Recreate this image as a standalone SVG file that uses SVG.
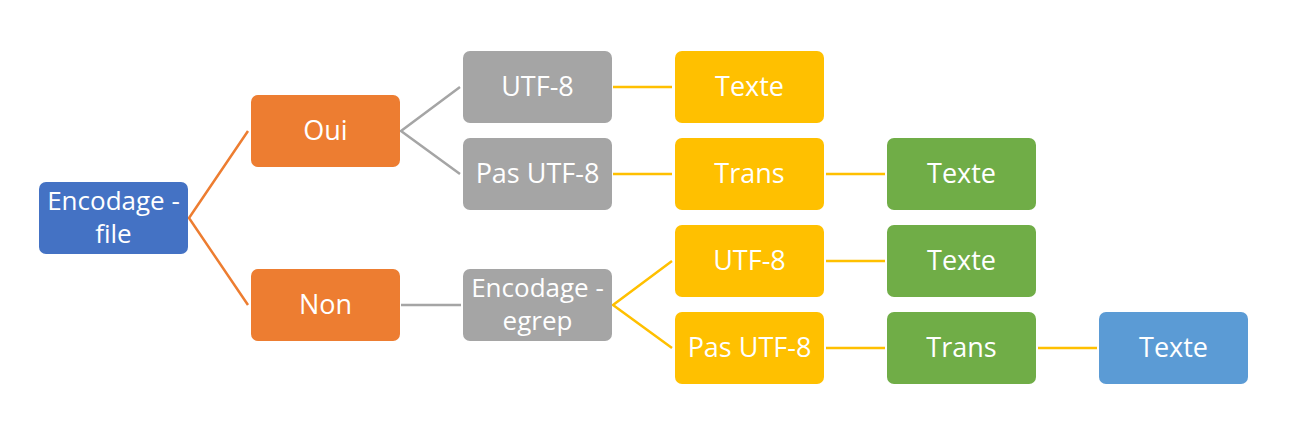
<svg xmlns="http://www.w3.org/2000/svg" width="1297" height="435" viewBox="0 0 1297 435">
<style>
rect{rx:7px;ry:7px}
.t{font-family:"Open Sans","Liberation Sans",sans-serif;font-size:27px;fill:#fff;text-anchor:middle}
.t2{font-size:26px}
.blue{fill:#4472C4}.org{fill:#ED7D31}.gray{fill:#A5A5A5}.yel{fill:#FFC000}.grn{fill:#70AD47}.lb{fill:#5B9BD5}
#connectors line,#connectors polyline{fill:none;stroke-width:2.5}
.so{stroke:#ED7D31}.sg{stroke:#A5A5A5}.sy{stroke:#FFC000}
</style>
<rect width="1297" height="435" fill="#fff" rx="0" ry="0" style="rx:0;ry:0"/>
<g id="connectors">
<polyline class="so" points="248,131 189,218 248,305"/>
<polyline class="sg" points="460,87 401,131 460,174"/>
<line class="sg" x1="401" y1="305" x2="461" y2="305"/>
<line class="sy" x1="613" y1="87" x2="672" y2="87"/>
<line class="sy" x1="613" y1="174" x2="672" y2="174"/>
<line class="sy" x1="826" y1="174" x2="885" y2="174"/>
<polyline class="sy" points="672,261 613,305 672,348"/>
<line class="sy" x1="826" y1="261" x2="885" y2="261"/>
<line class="sy" x1="826" y1="348" x2="885" y2="348"/>
<line class="sy" x1="1038" y1="348" x2="1097" y2="348"/>
</g>
<g id="n-encodage-file"><rect class="blue" x="39" y="182" width="149" height="72"/><text class="t t2" x="113.5" y="210">Encodage -</text><text class="t t2" x="113.5" y="243">file</text></g>
<g id="n-oui"><rect class="org" x="251" y="95" width="149" height="72"/><text class="t" x="325.5" y="140">Oui</text></g>
<g id="n-non"><rect class="org" x="251" y="269" width="149" height="72"/><text class="t" x="325.5" y="314">Non</text></g>
<g id="n-utf8-a"><rect class="gray" x="463" y="51" width="149" height="72"/><text class="t" x="537.5" y="96">UTF-8</text></g>
<g id="n-pasutf8-a"><rect class="gray" x="463" y="138" width="149" height="72"/><text class="t" x="537.5" y="183">Pas UTF-8</text></g>
<g id="n-encodage-egrep"><rect class="gray" x="463" y="269" width="149" height="72"/><text class="t t2" x="537.5" y="297">Encodage -</text><text class="t t2" x="537.5" y="330">egrep</text></g>
<g id="n-texte-1"><rect class="yel" x="675" y="51" width="149" height="72"/><text class="t" x="749.5" y="96">Texte</text></g>
<g id="n-trans-1"><rect class="yel" x="675" y="138" width="149" height="72"/><text class="t" x="749.5" y="183">Trans</text></g>
<g id="n-utf8-b"><rect class="yel" x="675" y="225" width="149" height="72"/><text class="t" x="749.5" y="270">UTF-8</text></g>
<g id="n-pasutf8-b"><rect class="yel" x="675" y="312" width="149" height="72"/><text class="t" x="749.5" y="357">Pas UTF-8</text></g>
<g id="n-texte-2"><rect class="grn" x="887" y="138" width="149" height="72"/><text class="t" x="961.5" y="183">Texte</text></g>
<g id="n-texte-3"><rect class="grn" x="887" y="225" width="149" height="72"/><text class="t" x="961.5" y="270">Texte</text></g>
<g id="n-trans-2"><rect class="grn" x="887" y="312" width="149" height="72"/><text class="t" x="961.5" y="357">Trans</text></g>
<g id="n-texte-4"><rect class="lb" x="1099" y="312" width="149" height="72"/><text class="t" x="1173.5" y="357">Texte</text></g>
</svg>
